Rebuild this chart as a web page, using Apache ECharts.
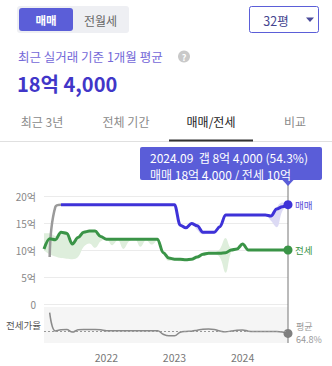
<!DOCTYPE html>
<html><head><meta charset="utf-8">
<script src="https://cdn.jsdelivr.net/npm/echarts@6/dist/echarts.min.js"></script>
<style>html,body{margin:0;padding:0;background:#fff}#c{width:332px;height:366px}</style>
</head><body><div id="c"></div>
<script>
const months = ['2021.02','2021.03','2021.04','2021.05','2021.06','2021.07','2021.08','2021.09','2021.10','2021.11','2021.12',
'2022.01','2022.02','2022.03','2022.04','2022.05','2022.06','2022.07','2022.08','2022.09','2022.10','2022.11','2022.12',
'2023.01','2023.02','2023.03','2023.04','2023.05','2023.06','2023.07','2023.08','2023.09','2023.10','2023.11','2023.12',
'2024.01','2024.02','2024.03','2024.04','2024.05','2024.06','2024.07','2024.08','2024.09'];
const yTickLabels = ['0','5억','10억','15억','20억'];
// 매매 before regular series (grey lead-in)
const saleLead = [null,8.7,18.0,18.4,null,null,null,null,null,null,null,null,null,null,null,null,null,null,null,null,null,null,null,null,null,null,null,null,null,null,null,null,null,null,null,null,null,null,null,null,null,null,null,null];
const sale = [null,null,null,18.4,18.4,18.4,18.4,18.4,18.4,18.4,18.4,18.4,18.4,18.4,18.4,18.4,18.4,18.4,18.4,18.4,18.4,18.4,18.4,18.4,
14.6,14.1,14.9,14.5,13.3,13.3,13.3,14.3,16.5,16.5,16.5,16.5,16.5,16.5,16.5,16.5,16.3,17.6,18.0,18.4];
const saleLow = [null,null,null,18.4,18.4,18.4,18.4,18.4,18.4,18.4,18.4,18.4,18.4,18.4,18.4,18.4,18.4,18.4,18.4,18.4,18.4,18.4,18.4,18.4,
14.6,14.1,14.9,13.7,12.9,13.0,13.0,14.3,16.5,16.5,16.5,16.5,16.5,16.5,16.5,16.5,15.4,14.2,17.2,18.4];
const saleHigh = [null,null,null,18.4,18.4,18.4,18.4,18.4,18.4,18.4,18.4,18.4,18.4,18.4,18.4,18.4,18.4,18.4,18.4,18.4,18.4,18.4,18.4,18.4,
14.6,14.1,14.9,14.5,13.4,13.4,13.3,14.3,16.5,16.5,16.5,16.5,16.5,16.5,16.5,16.5,16.5,17.9,18.8,18.4];
const jeonse = [10.2,12.1,11.9,13.3,13.1,11.1,12.3,13.3,13.5,13.5,12.5,
12.0,12.0,12.0,12.0,12.0,12.0,12.0,12.0,12.0,12.0,
9.5,8.5,8.3,8.3,8.2,8.3,8.7,9.2,9.4,9.4,9.4,9.5,10.0,10.2,11.1,10.0,
10.0,10.0,10.0,10.0,10.0,10.0,10.0];
const jeonseLow = [9.9,9.2,8.8,8.5,8.4,8.3,8.7,10.6,11.2,10.4,11.6,
12.0,10.9,11.8,10.2,11.6,12.0,10.6,11.8,11.0,11.8,
9.5,8.0,8.1,7.9,8.0,8.3,8.7,9.0,9.2,9.2,8.6,5.8,9.6,10.2,11.1,10.0,
10.0,10.0,10.0,10.0,10.0,10.0,10.0];
const jeonseHigh = [13.1,13.1,12.6,13.4,13.2,11.4,12.5,13.4,13.6,13.5,12.6,
12.0,12.0,12.0,12.0,12.0,12.0,12.0,12.0,12.0,12.0,
9.5,8.6,8.4,8.4,8.3,8.3,8.7,9.4,9.6,9.6,10.2,12.2,10.3,10.2,11.1,10.0,
10.0,10.0,10.0,10.0,10.0,10.0,10.0];
// 전세가율 (%)
const ratio = [null,88,65.0,66.5,66.8,63.6,66.5,67.0,67.0,67.0,66.5,
65.3,65.3,65.3,65.3,65.3,65.3,65.3,65.3,65.3,65.3,
61.0,59.0,59.0,63.5,64.5,64.8,66.0,67.3,67.5,67.0,65.0,64.0,65.0,66.0,66.3,64.8,
64.3,64.3,64.3,64.3,64.3,63.8,62.0];
const ratioAvg = 64.8;

const FONT = '"Noto Sans CJK KR", "Noto Sans", sans-serif';
const last = months.length - 1;
const diff = (hi, lo) => hi.map((h, i) => (h == null || lo[i] == null) ? null : +(h - lo[i]).toFixed(2));
const endSize = (v, p) => p.dataIndex === last ? 9 : 0;
const BLUE = '#3e32d8', GREEN = '#3a9447';

const chart = echarts.init(document.getElementById('c'), null, {renderer: 'svg', width: 332, height: 366});
const option = {
  animation: false,
  textStyle: {fontFamily: FONT},
  grid: [
    {left: 44, right: 44, top: 196, height: 108, outerBoundsMode: 'none'},
    {left: 44, right: 44, top: 307, height: 36, show: true, backgroundColor: '#f5f5f5', borderWidth: 0, outerBoundsMode: 'none'}
  ],
  xAxis: [
    {type: 'category', gridIndex: 0, data: months, boundaryGap: false, axisLine: {show: false}, axisTick: {show: false}, axisLabel: {show: false}, splitLine: {show: false}},
    {type: 'category', gridIndex: 1, data: months, boundaryGap: false, axisLine: {show: false}, axisTick: {show: false},
      axisLabel: {interval: (i, v) => v.endsWith('.01'), formatter: v => v.slice(0, 4), color: '#777', fontSize: 10.5, margin: 9, fontFamily: FONT}, splitLine: {show: false}}
  ],
  yAxis: [
    {type: 'value', gridIndex: 0, min: 0, max: 20, interval: 5,
      axisLabel: {formatter: v => yTickLabels[Math.round(v / 5)], color: '#888', fontSize: 10, margin: 8, fontFamily: FONT},
      splitLine: {lineStyle: {color: '#ebebeb', width: 1}}, axisLine: {show: false}, axisTick: {show: false}},
    {type: 'value', gridIndex: 1, min: 50, max: 95, show: false, splitLine: {show: false}}
  ],
  series: [
    {type: 'line', data: jeonseLow, stack: 'jb', smooth: 0.4, symbol: 'none', lineStyle: {opacity: 0}, silent: true},
    {type: 'line', data: diff(jeonseHigh, jeonseLow), stack: 'jb', smooth: 0.4, symbol: 'none', lineStyle: {opacity: 0}, areaStyle: {color: '#deeedc', opacity: 1}, silent: true},
    {type: 'line', data: saleLow, stack: 'sb', smooth: 0.4, symbol: 'none', lineStyle: {opacity: 0}, silent: true},
    {type: 'line', data: diff(saleHigh, saleLow), stack: 'sb', smooth: 0.4, symbol: 'none', lineStyle: {opacity: 0}, areaStyle: {color: '#dcdaf4', opacity: 1}, silent: true},
    {type: 'line', data: saleLead, smooth: 0.5, symbol: 'none', lineStyle: {color: '#9a9a9a', width: 2.5}},
    {type: 'line', name: '매매', data: sale, smooth: 0.35, smoothMonotone: 'x', symbol: 'circle', showSymbol: true, showAllSymbol: true, symbolSize: endSize,
      itemStyle: {color: BLUE}, lineStyle: {width: 3, color: BLUE}, z: 4,
      endLabel: {show: true, formatter: '매매', color: '#5a4fd8', fontSize: 9.5, distance: 7, fontFamily: FONT}},
    {type: 'line', name: '전세', data: jeonse, smooth: 0.35, smoothMonotone: 'x', symbol: 'circle', showSymbol: true, showAllSymbol: true, symbolSize: endSize,
      itemStyle: {color: GREEN}, lineStyle: {width: 3, color: GREEN}, z: 4,
      endLabel: {show: true, formatter: '전세', color: GREEN, fontSize: 9.5, distance: 7, fontFamily: FONT}},
    {type: 'line', name: '전세가율', xAxisIndex: 1, yAxisIndex: 1, data: ratio, smooth: 0.4, symbol: 'circle', showSymbol: true, showAllSymbol: true, symbolSize: endSize,
      itemStyle: {color: '#808080'}, lineStyle: {width: 1.5, color: '#8a8a8a'}, z: 4,
      markLine: {silent: true, symbol: 'none', label: {show: false}, lineStyle: {type: [2, 2], color: '#999', width: 1}, data: [{yAxis: ratioAvg}]}}
  ]
};
chart.setOption(option);

const px = chart.convertToPixel({xAxisIndex: 0}, months[last]);
const rp = chart.convertToPixel({xAxisIndex: 1, yAxisIndex: 1}, [months[last], ratio[last]]);
const T = (x, y, text, size, fill, extra) => Object.assign({type: 'text', x: x, y: y, z: 100,
  style: Object.assign({text: text, fontSize: size, fill: fill, fontFamily: FONT, verticalAlign: 'middle', align: 'left'}, extra || {})});
chart.setOption({graphic: [
  {type: 'rect', z: 99, shape: {x: 17, y: 6, width: 112, height: 27, r: 3}, style: {fill: '#eeeff3'}},
  {type: 'rect', z: 99, shape: {x: 19, y: 8, width: 54, height: 23, r: 3}, style: {fill: '#5b5ed8'}},
  T(46, 20, '매매', 11.5, '#fff', {align: 'center', fontWeight: 'bold'}),
  T(100.5, 20, '전월세', 12, '#666', {align: 'center'}),
  {type: 'rect', z: 99, shape: {x: 249.5, y: 6.5, width: 69, height: 26, r: 2}, style: {fill: '#fff', stroke: '#5b5ed8', lineWidth: 1}},
  T(276, 20, '32평', 12.5, '#44448f', {align: 'center'}),
  {type: 'polygon', z: 100, shape: {points: [[306, 17.5], [314, 17.5], [310, 22]]}, style: {fill: '#4a4a9a'}},
  T(18, 56, '최근 실거래 기준 1개월 평균', 12.5, '#7468d8'),
  {type: 'circle', z: 99, shape: {cx: 184, cy: 56.5, r: 6}, style: {fill: '#c9c9c9'}},
  T(184, 57, '?', 9, '#fff', {align: 'center', fontWeight: 'bold'}),
  T(17, 83, '18억 4,000', 20, '#4136c8', {fontWeight: 'bold'}),
  T(42, 121, '최근 3년', 12, '#8a8a8a', {align: 'center'}),
  T(126, 121, '전체 기간', 12, '#8a8a8a', {align: 'center'}),
  T(211, 121, '매매/전세', 12, '#222', {align: 'center'}),
  T(295, 121, '비교', 12, '#8a8a8a', {align: 'center'}),
  {type: 'line', z: 99, shape: {x1: 0, y1: 141.5, x2: 332, y2: 141.5}, style: {stroke: '#e0e0e0', lineWidth: 1}},
  {type: 'rect', z: 100, shape: {x: 169, y: 139.5, width: 84, height: 2}, style: {fill: '#333'}},
  {type: 'line', z: 1, shape: {x1: px, y1: 182, x2: px, y2: 343}, style: {stroke: '#777', lineWidth: 1}},
  {type: 'rect', z: 100, shape: {x: 140, y: 147, width: 182, height: 33, r: 2}, style: {fill: '#5a5dd8'}},
  {type: 'polygon', z: 100, shape: {points: [[px - 6, 179.5], [px + 6, 179.5], [px, 186]]}, style: {fill: '#5a5dd8'}},
  T(150, 157.5, '2024.09  갭 8억 4,000 (54.3%)', 12, '#fff'),
  T(150, 174, '매매 18억 4,000 / 전세 10억', 12, '#fff'),
  T(41, 325, '전세가율', 9.5, '#555', {align: 'right'}),
  T(px + 8, rp[1] - 7, '평균', 9, '#999'),
  T(px + 8, rp[1] + 6, ratioAvg + '%', 9, '#999')
]});
</script>
</body></html>
